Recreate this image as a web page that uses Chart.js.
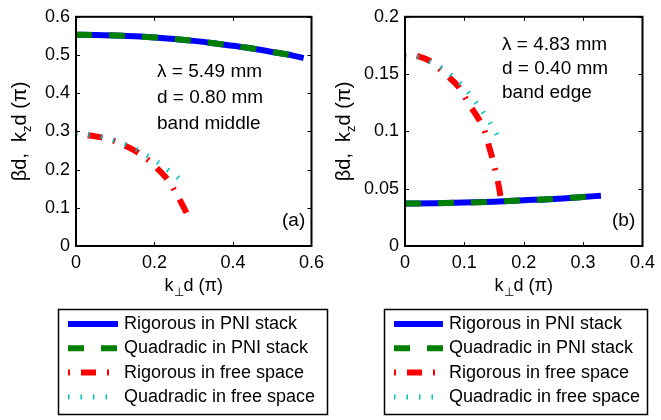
<!DOCTYPE html>
<html>
<head>
<meta charset="utf-8">
<script src="https://cdn.jsdelivr.net/npm/chart.js@4.4.1/dist/chart.umd.min.js"></script>
<style>
  html, body { margin: 0; padding: 0; background: #fff; }
  #wrap { position: relative; width: 661px; height: 420px; overflow: hidden; }
  canvas { position: absolute; top: 0; }
</style>
</head>
<body>
<div id="wrap">
  <canvas id="panelA" width="330" height="420" style="left:0"></canvas>
  <canvas id="panelB" width="331" height="420" style="left:330px"></canvas>
</div>
<script>
// ---- Panel (a): band middle ----
const aXTicks = [0, 0.2, 0.4, 0.6];
const aXTickLabels = ['0', '0.2', '0.4', '0.6'];
const aYTicks = [0, 0.1, 0.2, 0.3, 0.4, 0.5, 0.6];
const aYTickLabels = ['0', '0.1', '0.2', '0.3', '0.4', '0.5', '0.6'];

const aStackX = [0, 0.05, 0.1, 0.15, 0.2, 0.25, 0.3, 0.35, 0.4, 0.45, 0.5, 0.55, 0.58];
const aStackRig = [0.553, 0.5525, 0.551, 0.549, 0.546, 0.542, 0.537, 0.531, 0.524, 0.517, 0.508, 0.499, 0.492];
const aStackQuad = [0.553, 0.5525, 0.551, 0.549, 0.546, 0.542, 0.537, 0.531, 0.524, 0.517, 0.508, 0.499, 0.492];
const aFreeRigX = [0.03, 0.07, 0.1, 0.13, 0.16, 0.19, 0.21, 0.235, 0.255, 0.27, 0.285];
const aFreeRig = [0.290, 0.283, 0.274, 0.260, 0.243, 0.220, 0.200, 0.172, 0.138, 0.110, 0.080];
const aFreeQuadX = [0, 0.05, 0.1, 0.15, 0.2, 0.25, 0.28];
const aFreeQuad = [0.293, 0.289, 0.276, 0.255, 0.225, 0.187, 0.163];
const aNotes = ['\u03bb = 5.49 mm', 'd = 0.80 mm', 'band middle'];

// ---- Panel (b): band edge ----
const bXTicks = [0, 0.1, 0.2, 0.3, 0.4];
const bXTickLabels = ['0', '0.1', '0.2', '0.3', '0.4'];
const bYTicks = [0, 0.05, 0.1, 0.15, 0.2];
const bYTickLabels = ['0', '0.05', '0.1', '0.15', '0.2'];

const bStackX = [0, 0.05, 0.1, 0.15, 0.2, 0.25, 0.3, 0.33];
const bStackRig = [0.0370, 0.0373, 0.0379, 0.0387, 0.0399, 0.0411, 0.0428, 0.0439];
const bStackQuad = [0.0370, 0.0373, 0.0379, 0.0387, 0.0399, 0.0411, 0.0428, 0.0439];
const bFreeRigX = [0.02, 0.04, 0.07, 0.09, 0.11, 0.125, 0.135, 0.142, 0.148, 0.154, 0.158, 0.161];
const bFreeRig = [0.166, 0.162, 0.149, 0.139, 0.122, 0.110, 0.099, 0.086, 0.075, 0.062, 0.052, 0.043];
const bFreeQuadX = [0, 0.02, 0.04, 0.06, 0.08, 0.1, 0.12, 0.14, 0.161];
const bFreeQuad = [0.166, 0.165, 0.161, 0.156, 0.148, 0.138, 0.125, 0.110, 0.092];
const bNotes = ['\u03bb = 4.83 mm', 'd = 0.40 mm', 'band edge'];

const seriesNames = ['Rigorous in PNI stack', 'Quadradic in PNI stack', 'Rigorous in free space', 'Quadradic in free space'];

const FONT = '"Liberation Sans", Arial, Helvetica, sans-serif';

// line styles shared by the curves and the legend samples
const styles = [
  { color: '#0000ff', width: 6, dash: [], legendOffset: 0 },
  { color: '#008000', width: 6, dash: [16, 17], legendOffset: 0 },
  { color: '#ff0000', width: 6, dash: [15, 11, 2, 11], legendOffset: 26 },
  { color: '#00c0c0', width: 5, dash: [1.5, 11], legendOffset: 0 }
];

function pts(xs, ys) { return xs.map((x, i) => ({ x: x, y: ys[i] })); }

function makeDataset(i, data) {
  const s = styles[i];
  return {
    label: seriesNames[i],
    data: data,
    borderColor: s.color,
    backgroundColor: s.color,
    borderWidth: s.width,
    borderDash: s.dash,
    borderCapStyle: 'butt',
    pointRadius: 0,
    fill: false,
    cubicInterpolationMode: 'monotone',
    order: 4 - i
  };
}

// Frame, inward ticks, axis titles, notes and the boxed legend
const decorations = {
  id: 'decorations',
  afterDraw(chart, args, opts) {
    const ctx = chart.ctx;
    const ca = chart.chartArea;
    const xs = chart.scales.x, ys = chart.scales.y;
    ctx.save();
    ctx.strokeStyle = '#000';
    ctx.lineWidth = 2;
    ctx.setLineDash([]);
    ctx.strokeRect(ca.left, ca.top, ca.right - ca.left, ca.bottom - ca.top);
    ctx.lineWidth = 1;
    const tl = 4;
    ctx.beginPath();
    opts.xTicks.forEach(v => {
      const px = Math.round(xs.getPixelForValue(v)) + 0.5;
      ctx.moveTo(px, ca.bottom); ctx.lineTo(px, ca.bottom - tl);
      ctx.moveTo(px, ca.top); ctx.lineTo(px, ca.top + tl);
    });
    opts.yTicks.forEach(v => {
      const py = Math.round(ys.getPixelForValue(v)) + 0.5;
      ctx.moveTo(ca.left, py); ctx.lineTo(ca.left + tl, py);
      ctx.moveTo(ca.right, py); ctx.lineTo(ca.right - tl, py);
    });
    ctx.stroke();

    ctx.fillStyle = '#000';
    // notes inside the axes
    ctx.font = '19px ' + FONT;
    ctx.textAlign = 'left';
    ctx.textBaseline = 'middle';
    opts.notes.forEach((t, i) => ctx.fillText(t, opts.noteX, opts.noteY + i * opts.noteGap));
    ctx.fillText(opts.tag, opts.tagX, opts.tagY);

    // x axis title: k⊥d (π)
    ctx.font = '18px ' + FONT;
    const sub = '12px ' + FONT;
    const partsX = [['k', ctx.font, 0], ['\u22a5', sub, 5], ['d (\u03c0)', ctx.font, 0]];
    drawParts(ctx, partsX, (ca.left + ca.right) / 2, opts.xTitleY);

    // y axis title: βd, kzd (π), rotated
    ctx.save();
    ctx.translate(opts.yTitleX, (ca.top + ca.bottom) / 2);
    ctx.rotate(-Math.PI / 2);
    const big = '20px ' + FONT;
    const small = '13px ' + FONT;
    const partsY = [['\u03b2d,  k', big, 0], ['z', small, 5], ['d (\u03c0)', big, 0]];
    drawParts(ctx, partsY, 0, 0);
    ctx.restore();

    // legend
    const L = opts.legend;
    ctx.lineWidth = 1.5;
    ctx.strokeStyle = '#000';
    ctx.strokeRect(L.x + 0.5, L.y + 0.5, L.w, L.h);
    ctx.font = '18px ' + FONT;
    ctx.textAlign = 'left';
    ctx.textBaseline = 'middle';
    seriesNames.forEach((name, i) => {
      const s = styles[i];
      const y = L.y + L.row0 + i * L.rowGap;
      ctx.save();
      ctx.strokeStyle = s.color;
      ctx.lineWidth = s.width;
      ctx.lineCap = 'butt';
      ctx.setLineDash(s.dash);
      ctx.lineDashOffset = s.legendOffset;
      ctx.beginPath();
      ctx.moveTo(L.x + L.lineX0, y);
      ctx.lineTo(L.x + L.lineX1, y);
      ctx.stroke();
      ctx.restore();
      ctx.fillStyle = '#000';
      ctx.fillText(name, L.x + L.textX, y);
    });
    ctx.restore();
  }
};

// draws a run of text pieces (with subscripts) centred on cx, baseline at by
function drawParts(ctx, parts, cx, by) {
  let total = 0;
  parts.forEach(p => { ctx.font = p[1]; total += ctx.measureText(p[0]).width; });
  let x = cx - total / 2;
  ctx.textAlign = 'left';
  ctx.textBaseline = 'alphabetic';
  parts.forEach(p => {
    ctx.font = p[1];
    ctx.fillText(p[0], x, by + p[2]);
    x += ctx.measureText(p[0]).width;
  });
}

function makeChart(id, cfg) {
  return new Chart(document.getElementById(id), {
    type: 'line',
    data: { datasets: cfg.datasets },
    plugins: [decorations],
    options: {
      responsive: false,
      animation: false,
      events: [],
      layout: { padding: { left: 0, right: cfg.padRight, top: 10, bottom: 0 } },
      plugins: {
        legend: { display: false },
        tooltip: { enabled: false },
        decorations: cfg.deco
      },
      scales: {
        x: {
          type: 'linear',
          min: cfg.xTicks[0], max: cfg.xTicks[cfg.xTicks.length - 1],
          grid: { display: false, drawTicks: false },
          border: { display: false },
          afterBuildTicks: s => { s.ticks = cfg.xTicks.map(v => ({ value: v })); },
          afterFit: s => { s.height = 174; },
          ticks: {
            color: '#000', padding: 6, maxRotation: 0, autoSkip: false,
            font: { family: FONT, size: 18 },
            callback: (v, i) => cfg.xLabels[i]
          }
        },
        y: {
          type: 'linear',
          min: cfg.yTicks[0], max: cfg.yTicks[cfg.yTicks.length - 1],
          grid: { display: false, drawTicks: false },
          border: { display: false },
          afterBuildTicks: s => { s.ticks = cfg.yTicks.map(v => ({ value: v })); },
          afterFit: s => { s.width = cfg.yWidth; },
          ticks: {
            color: '#000', padding: 6, autoSkip: false,
            font: { family: FONT, size: 18 },
            callback: (v, i) => cfg.yLabels[i]
          }
        }
      }
    }
  });
}

makeChart('panelA', {
  xTicks: aXTicks, xLabels: aXTickLabels, yTicks: aYTicks, yLabels: aYTickLabels,
  yWidth: 76, padRight: 9,
  datasets: [
    makeDataset(0, pts(aStackX, aStackRig)),
    makeDataset(1, pts(aStackX, aStackQuad)),
    makeDataset(2, pts(aFreeRigX, aFreeRig)),
    makeDataset(3, pts(aFreeQuadX, aFreeQuad))
  ],
  deco: {
    xTicks: aXTicks, yTicks: aYTicks, notes: aNotes,
    noteX: 157, noteY: 72, noteGap: 26, tag: '(a)', tagX: 282, tagY: 221,
    xTitleY: 291, yTitleX: 26,
    legend: { x: 58, y: 309, w: 269, h: 105, row0: 15, rowGap: 24.3, lineX0: 10, lineX1: 60, textX: 66 }
  }
});

makeChart('panelB', {
  xTicks: bXTicks, xLabels: bXTickLabels, yTicks: bYTicks, yLabels: bYTickLabels,
  yWidth: 75, padRight: 11,
  datasets: [
    makeDataset(0, pts(bStackX, bStackRig)),
    makeDataset(1, pts(bStackX, bStackQuad)),
    makeDataset(2, pts(bFreeRigX, bFreeRig)),
    makeDataset(3, pts(bFreeQuadX, bFreeQuad))
  ],
  deco: {
    xTicks: bXTicks, yTicks: bYTicks, notes: bNotes,
    noteX: 172, noteY: 45, noteGap: 24, tag: '(b)', tagX: 282, tagY: 221,
    xTitleY: 291, yTitleX: 20,
    legend: { x: 54, y: 309, w: 263, h: 105, row0: 15, rowGap: 24.3, lineX0: 10, lineX1: 59, textX: 65 }
  }
});
</script>
</body>
</html>
